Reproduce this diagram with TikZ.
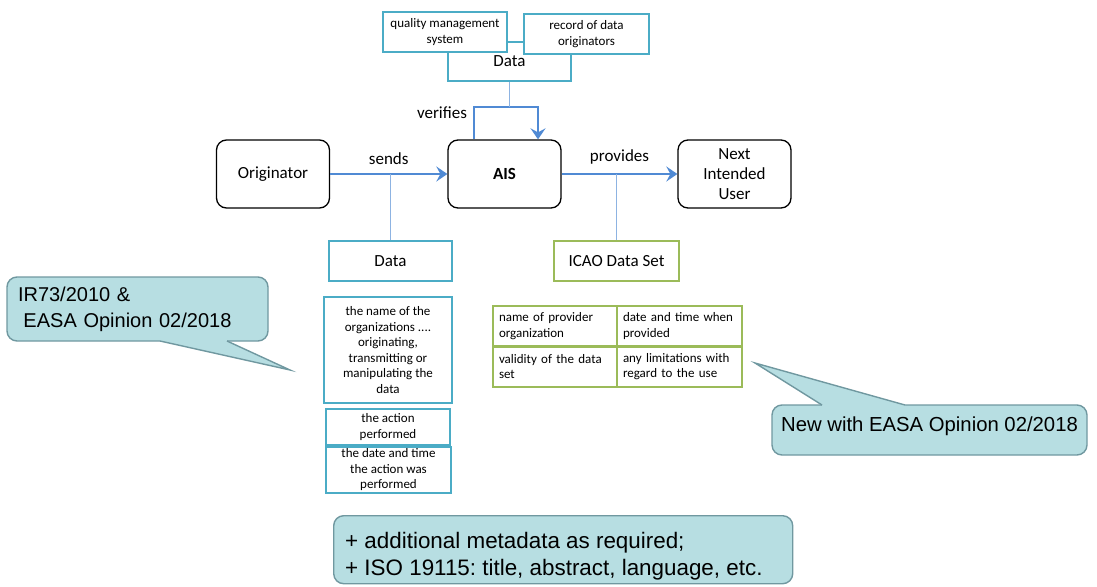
\documentclass[tikz,border=0pt]{standalone}
\usepackage{fontspec}
\setmainfont{Carlito}
\newfontfamily\arialf{Liberation Sans}
\usetikzlibrary{arrows.meta}

\definecolor{flowblue}{RGB}{80,138,212}
\definecolor{linkblue}{RGB}{141,179,226}
\definecolor{aquaedge}{RGB}{75,172,198}
\definecolor{greenedge}{RGB}{155,187,89}
\definecolor{notefill}{RGB}{183,222,226}
\definecolor{noteedge}{RGB}{112,152,160}

\tikzset{
  databox/.style={draw=aquaedge, line width=2pt, fill=white, inner sep=2pt, align=center,
    font=\fontsize{13}{15.5}\selectfont},
  bigtext/.style={font=\fontsize{17}{20}\selectfont},
  mainbox/.style={draw=black, line width=1.3pt, rounded corners=10pt, fill=white,
    minimum width=113pt, minimum height=68pt, align=center, bigtext},
  cellbox/.style={draw=greenedge, line width=2pt, fill=white, align=left, inner sep=6pt,
    minimum height=40pt, font=\fontsize{13}{15.5}\selectfont},
  greenbox/.style={draw=greenedge, line width=2pt, fill=white, align=center, bigtext},
  flow/.style={draw=flowblue, line width=2.8pt, -{Stealth[length=11pt,width=15pt,inset=4pt]}},
  link/.style={draw=linkblue, line width=1pt},
  qlinkline/.style={draw=aquaedge, line width=1pt},
  notebox/.style={draw=noteedge, fill=notefill, line width=1.4pt, rounded corners=10pt,
    font=\arialf\fontsize{20}{26}\selectfont},
  notetip/.style={draw=noteedge, line width=1.4pt, line join=miter},
}

\begin{document}
\frenchspacing
\begin{tikzpicture}[x=1pt,y=-1pt]
\useasboundingbox (0,0) rectangle (1097,586);

% data requirements checked by the AIS
\node[databox, minimum width=123pt, minimum height=39pt, bigtext] (topdata) at (509.5,61.5) {Data};
\node[databox, minimum width=124pt, minimum height=40pt] (qms) at (445,32) {quality management\\system};
\node[databox, minimum width=125pt, minimum height=40pt] (rec) at (586.5,34) {record of data\\originators};
\coordinate (qlink) at (515,42);
\draw[qlinkline] (qms.east |- qlink) -- (rec.west |- qlink);

% main chain
\node[mainbox] (orig) at (273,174) {Originator};
\node[mainbox] (ais) at (504.5,174) {\textbf{AIS}};
\node[mainbox] (niu) at (734.5,174) {Next\\Intended\\User};

\draw[flow] (orig.east) -- (ais.west) node[midway, above=5pt, bigtext] (sends) {sends};
\draw[flow] (ais.east) -- (niu.west) node[midway, above=5pt, bigtext] (provides) {provides};

% verification loop
\coordinate (vl) at (474,107);
\coordinate (vr) at (538,107);
\draw[flow] (ais.north -| vl) -- (vl) -- (vr) -- (ais.north -| vr);
\node[bigtext] (verifies) at (442,113) {verifies};
\draw[link] (topdata.south) -- (topdata.south |- vl);

% data sent by the originator
\node[databox, minimum width=123pt, minimum height=40pt, bigtext] (middata) at (390.5,261) {Data};
\draw[link] (middata.north) -- (middata.north |- orig.east);
\node[databox, minimum width=128pt, minimum height=106pt] (names) at (388,350)
  {the name of the\\organizations ....\\originating,\\transmitting or\\manipulating the\\data};
\node[databox, minimum width=124pt, minimum height=36pt] (action) at (388,427) {the action\\performed};
\node[databox, minimum width=125pt, minimum height=40pt] (datetime) at (388.5,470)
  {the date and time\\the action was\\performed};

% data set provided by the AIS
\node[greenbox, minimum width=125pt, minimum height=40pt] (icao) at (616.5,261) {ICAO Data Set};
\draw[link] (icao.north) -- (icao.north |- ais.east);
\node[cellbox, text width=112pt] (c11) at (555,326) {name of provider\\organization};
\node[cellbox, text width=113pt] (c12) at (679.5,326) {date and time when\\provided};
\node[cellbox, text width=112pt] (c21) at (555,366.5) {validity of the data\\set};
\node[cellbox, text width=113pt] (c22) at (679.5,366.5) {any limitations with\\regard to the use};

% callout: legal basis
\node[notebox, minimum width=261pt, minimum height=64pt, inner xsep=11pt, text width=239pt, align=left]
  (legal) at (137.5,309) {IR73/2010 \&\\\hspace*{5.5pt}EASA Opinion 02/2018};
\coordinate (la) at (160,341);
\coordinate (lb) at (227,341);
\coordinate (lt) at (290,370);
\fill[notefill] (160,337) -- (la) -- (lt) -- (lb) -- (227,337) -- cycle;
\draw[notetip] (la) -- (lt) -- (lb);

% callout: new requirements
\node[notebox, minimum width=315pt, minimum height=50pt, text depth=12pt,
  font=\arialf\fontsize{20.3}{26}\selectfont]
  (newreq) at (929.5,430) {New with EASA Opinion 02/2018};
\coordinate (na) at (822,405);
\coordinate (nb) at (905,405);
\coordinate (nt) at (755,363);
\fill[notefill] (822,409) -- (na) -- (nt) -- (nb) -- (905,409) -- cycle;
\draw[notetip] (na) -- (nt) -- (nb);

% additional metadata
\node[notebox, anchor=north west, minimum width=459pt, minimum height=68pt] (extra) at (333,515) {};
\node[anchor=north west, inner sep=0pt, align=left, font=\arialf\fontsize{22.4}{27}\selectfont]
  (extratext) at (345,532) {+ additional metadata as required;\\+ ISO 19115: title, abstract, language, etc.};
\end{tikzpicture}
\end{document}
